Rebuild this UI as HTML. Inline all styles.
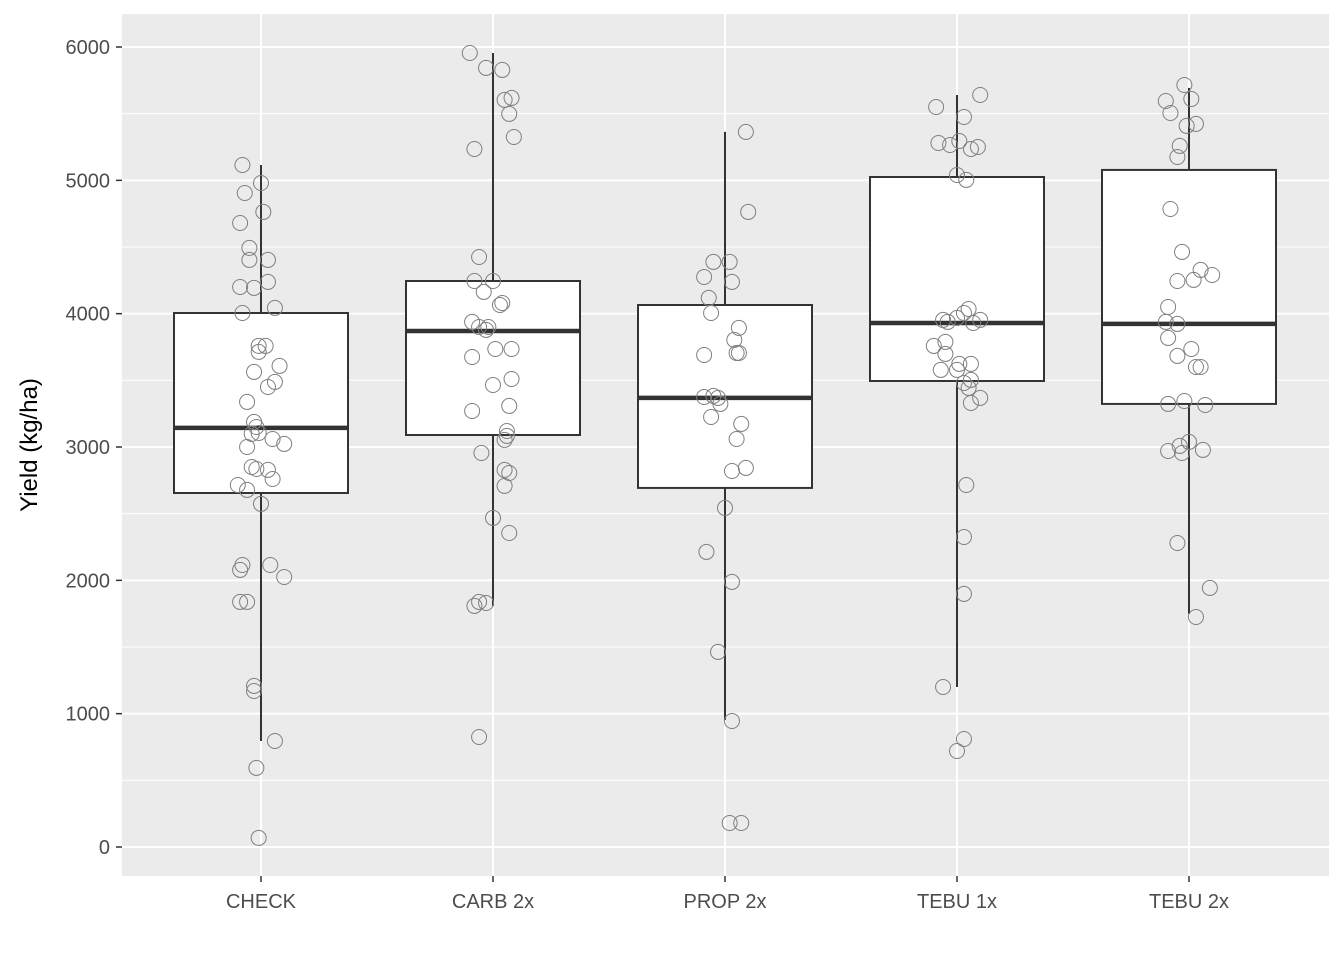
<!DOCTYPE html>
<html><head><meta charset="utf-8">
<style>
html,body{margin:0;padding:0;background:#fff;}
svg{display:block;font-family:"Liberation Sans",Arial,sans-serif;}
</style></head>
<body>
<svg id="chart" width="1344" height="960" viewBox="0 0 1344 960" xmlns="http://www.w3.org/2000/svg">
<rect x="0" y="0" width="1344" height="960" fill="#ffffff"/>
<rect x="122" y="14" width="1207" height="862" fill="#ebebeb"/>
<g id="grid"></g>
<g id="boxes"></g>
<g id="points"></g>
<g id="axes"></g>
<text transform="translate(37,445) rotate(-90)" text-anchor="middle" font-size="24" fill="#000">Yield (kg/ha)</text>
</svg>
<script>
const categories = ["CHECK","CARB 2x","PROP 2x","TEBU 1x","TEBU 2x"];
const yTicks = [0,1000,2000,3000,4000,5000,6000];
const whiskerLow = [795,1808,953,1200,1748];
const q1 = [2655,3090,2693,3495,3323];
const median = [3143,3870,3368,3930,3923];
const q3 = [4005,4245,4065,5025,5078];
const whiskerHigh = [5115,5955,5363,5640,5693];

const checkValues = [5115,4905,4980,4680,4763,4493,4403,4403,4200,4193,4238,4043,4005,3758,3758,3713,3608,3563,3450,3488,3338,3188,3150,3098,3105,3060,3023,3000,2850,2835,2828,2760,2715,2678,2573,2115,2078,2115,2025,1838,1838,1208,1170,795,593,68];
const checkJitter = [-0.08,-0.07,0,-0.09,0.01,-0.05,-0.05,0.03,-0.09,-0.03,0.03,0.06,-0.08,-0.01,0.02,-0.01,0.08,-0.03,0.03,0.06,-0.06,-0.03,-0.02,-0.04,-0.01,0.05,0.1,-0.06,-0.04,-0.02,0.03,0.05,-0.1,-0.06,0,-0.08,-0.09,0.04,0.1,-0.09,-0.06,-0.03,-0.03,0.06,-0.02,-0.01];
const carbValues = [5955,5843,5828,5603,5618,5498,5325,5235,4425,4245,4245,4163,4080,4065,3938,3900,3878,3900,3735,3735,3675,3510,3465,3308,3270,3120,3083,3053,2955,2828,2805,2708,2468,2355,1838,1808,1830,825];
const carbJitter = [-0.1,-0.03,0.04,0.05,0.08,0.07,0.09,-0.08,-0.06,0,-0.08,-0.04,0.04,0.03,-0.09,-0.06,-0.03,-0.02,0.01,0.08,-0.09,0.08,0,0.07,-0.09,0.06,0.06,0.05,-0.05,0.05,0.07,0.05,0,0.07,-0.06,-0.08,-0.03,-0.06];
const propValues = [5363,4763,4388,4388,4275,4238,4118,4005,3893,3803,3705,3690,3705,3368,3375,3383,3323,3225,3173,3060,2843,2820,2543,2213,1988,1463,945,180,180];
const propJitter = [0.09,0.1,-0.05,0.02,-0.09,0.03,-0.07,-0.06,0.06,0.04,0.06,-0.09,0.05,-0.03,-0.09,-0.05,-0.02,-0.06,0.07,0.05,0.09,0.03,0,-0.08,0.03,-0.03,0.03,0.02,0.07];
const tebu1Values = [5640,5550,5475,5280,5265,5295,5250,5235,5040,5003,4005,3953,3968,3938,3930,4035,3953,3758,3788,3698,3623,3578,3578,3623,3503,3480,3443,3368,3330,2715,2325,1898,1200,810,720];
const tebu1Jitter = [0.1,-0.09,0.03,-0.08,-0.03,0.01,0.09,0.06,0,0.04,0.03,-0.06,0,-0.04,0.07,0.05,0.1,-0.1,-0.05,-0.05,0.01,-0.07,0,0.06,0.06,0.03,0.05,0.1,0.06,0.04,0.03,0.03,-0.06,0.03,0];
const tebu2Values = [5715,5595,5610,5505,5408,5423,5258,5175,4785,4463,4328,4290,4253,4245,4050,3938,3923,3818,3735,3683,3600,3600,3323,3345,3315,3038,3008,2955,2970,2978,2280,1943,1725];
const tebu2Jitter = [-0.02,-0.1,0.01,-0.08,-0.01,0.03,-0.04,-0.05,-0.08,-0.03,0.05,0.1,0.02,-0.05,-0.09,-0.1,-0.05,-0.09,0.01,-0.05,0.03,0.05,-0.09,-0.02,0.07,0,-0.04,-0.03,-0.09,0.06,-0.05,0.09,0.03];

const pointValues = [checkValues,carbValues,propValues,tebu1Values,tebu2Values];
const pointJitter = [checkJitter,carbJitter,propJitter,tebu1Jitter,tebu2Jitter];

const NS = "http://www.w3.org/2000/svg";
const panel = {x0:122,x1:1329,y0:14,y1:876};
const step = 232;
function xScale(i){ return 261 + i*step; }
function yScale(v){ return 847 - v*(800/6000); }
function mk(tag, attrs, parent){
  const e = document.createElementNS(NS, tag);
  for (const k in attrs) e.setAttribute(k, attrs[k]);
  parent.appendChild(e); return e;
}
const grid = document.getElementById('grid');
for (let i=0;i<yTicks.length-1;i++){
  const y = yScale((yTicks[i]+yTicks[i+1])/2);
  const l = mk('line',{x1:panel.x0,x2:panel.x1,y1:y,y2:y,stroke:'#fff','stroke-width':1},grid);
  
  
}
yTicks.forEach(t=>{
  const y = yScale(t);
  const l = mk('line',{x1:panel.x0,x2:panel.x1,y1:y,y2:y,stroke:'#fff','stroke-width':2},grid);
  
  
});
categories.forEach((c,i)=>{
  const x = xScale(i);
  const l = mk('line',{x1:x,x2:x,y1:panel.y0,y2:panel.y1,stroke:'#fff','stroke-width':2},grid);
  
  
});
const boxes = document.getElementById('boxes');
const hw = step*0.75/2;
categories.forEach((c,i)=>{
  const x = xScale(i);
  const g = mk('g',{},boxes);
  
  
  mk('line',{x1:x,x2:x,y1:yScale(whiskerHigh[i]),y2:yScale(q3[i]),stroke:'#333','stroke-width':2},g);
  mk('line',{x1:x,x2:x,y1:yScale(q1[i]),y2:yScale(whiskerLow[i]),stroke:'#333','stroke-width':2},g);
  mk('rect',{x:x-hw,y:yScale(q3[i]),width:2*hw,height:yScale(q1[i])-yScale(q3[i]),fill:'#fff',stroke:'#333','stroke-width':2},g);
  mk('line',{x1:x-hw,x2:x+hw,y1:yScale(median[i]),y2:yScale(median[i]),stroke:'#333','stroke-width':4.5},g);
});
const pts = document.getElementById('points');
pointValues.forEach((vals,i)=>{
  vals.forEach((v,j)=>{
    const c = mk('circle',{cx:xScale(i+pointJitter[i][j]),cy:yScale(v),r:7.5,fill:'none',stroke:'#7f7f7f','stroke-width':1},pts);
    
    
  });
});
const axes = document.getElementById('axes');
yTicks.forEach(t=>{
  const y = yScale(t);
  mk('line',{x1:116,x2:122,y1:y,y2:y,stroke:'#333','stroke-width':1.5},axes);
  const tx = mk('text',{x:110,y:y+7,'text-anchor':'end','font-size':20,fill:'#4d4d4d'},axes);
  tx.textContent = t;
  
  
});
categories.forEach((c,i)=>{
  const x = xScale(i);
  mk('line',{x1:x,x2:x,y1:876,y2:882,stroke:'#333','stroke-width':1.5},axes);
  const tx = mk('text',{x:x,y:908,'text-anchor':'middle','font-size':20,fill:'#4d4d4d'},axes);
  tx.textContent = c;
  
  
});
</script>
</body></html>
